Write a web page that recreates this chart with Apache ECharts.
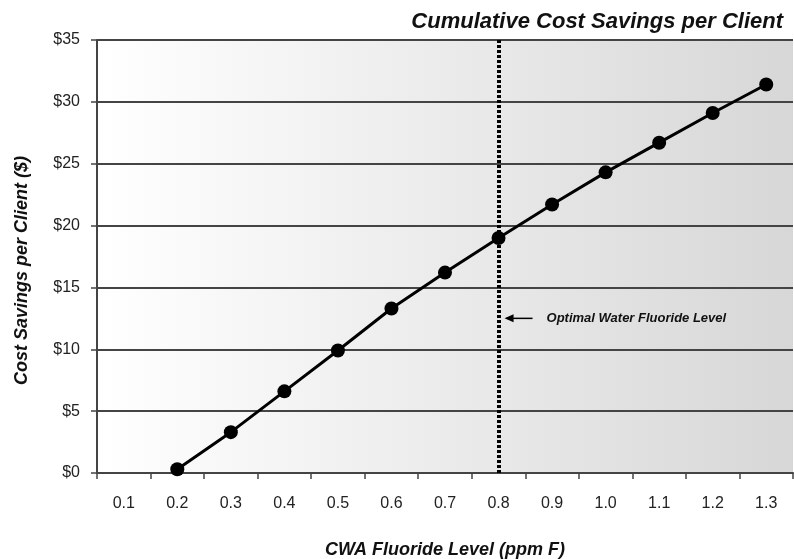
<!DOCTYPE html>
<html>
<head>
<meta charset="utf-8">
<script src="https://cdn.jsdelivr.net/npm/echarts@6/dist/echarts.min.js"></script>
<style>
  html, body { margin: 0; padding: 0; background: #fff; }
  #main { width: 794px; height: 559px; }
</style>
</head>
<body>
<div id="main"></div>
<script>
// fluoride levels on the x axis
var levels = ['0.1', '0.2', '0.3', '0.4', '0.5', '0.6', '0.7', '0.8', '0.9', '1.0', '1.1', '1.2', '1.3'];
// cumulative savings per client ($), none at 0.1
var savings = [null, 0.3, 3.3, 6.6, 9.9, 13.3, 16.2, 19.0, 21.7, 24.3, 26.7, 29.1, 31.4];
var optimalLevel = '0.8';
var noteValue = 12.5;

var font = 'Liberation Sans, Arial, sans-serif';

var chart = echarts.init(document.getElementById('main'));

var option = {
  animation: false,
  backgroundColor: '#ffffff',
  title: {
    text: 'Cumulative Cost Savings per Client',
    right: 6,
    top: 6,
    textStyle: {
      fontFamily: font,
      fontSize: 22,
      fontWeight: 'bold',
      fontStyle: 'italic',
      color: '#111'
    }
  },
  grid: {
    left: 97,
    right: 1,
    top: 40,
    bottom: 86,
    containLabel: false,
    outerBoundsMode: 'none',
    show: true,
    borderWidth: 0,
    backgroundColor: new echarts.graphic.LinearGradient(0, 0, 1, 0, [
      { offset: 0, color: '#ffffff' },
      { offset: 1, color: '#d7d7d7' }
    ])
  },
  xAxis: {
    type: 'category',
    data: levels,
    boundaryGap: true,
    name: 'CWA Fluoride Level (ppm F)',
    nameLocation: 'middle',
    nameGap: 68,
    nameTextStyle: {
      fontFamily: font,
      fontSize: 18,
      fontWeight: 'bold',
      fontStyle: 'italic',
      color: '#111'
    },
    axisLine: { lineStyle: { color: '#444', width: 2 } },
    axisTick: { show: true, length: 6, lineStyle: { color: '#444', width: 1.5 } },
    axisLabel: {
      fontFamily: font,
      fontSize: 16,
      color: '#222',
      margin: 23
    },
    splitLine: { show: false }
  },
  yAxis: {
    type: 'value',
    min: 0,
    max: 35,
    interval: 5,
    name: 'Cost Savings per Client ($)',
    nameLocation: 'middle',
    nameGap: 66,
    nameTextStyle: {
      fontFamily: font,
      fontSize: 18,
      fontWeight: 'bold',
      fontStyle: 'italic',
      color: '#111',
      padding: [0, 28, 0, 0]
    },
    axisLine: { show: true, lineStyle: { color: '#444', width: 2 } },
    axisTick: { show: true, length: 6, lineStyle: { color: '#444', width: 1.5 } },
    axisLabel: {
      fontFamily: font,
      fontSize: 16,
      color: '#222',
      margin: 17,
      formatter: function (v) { return '$' + v; }
    },
    splitLine: { show: true, lineStyle: { color: '#444', width: 2 } }
  },
  series: [{
    type: 'line',
    data: savings,
    symbol: 'circle',
    symbolSize: 14,
    itemStyle: { color: '#000' },
    lineStyle: { color: '#000', width: 3 },
    z: 5,
    markLine: {
      silent: true,
      symbol: ['none', 'none'],
      label: { show: false },
      lineStyle: { color: '#000', width: 4, type: [3, 2] },
      data: [{ xAxis: optimalLevel }],
      z: 3
    }
  }]
};

chart.setOption(option);

// arrow and note next to the optimal level line
var p = chart.convertToPixel({ xAxisIndex: 0, yAxisIndex: 0 }, [optimalLevel, noteValue]);
chart.setOption({
  graphic: [
    {
      type: 'line',
      shape: { x1: p[0] + 8, y1: p[1], x2: p[0] + 34, y2: p[1] },
      style: { stroke: '#000', lineWidth: 1.5 },
      z: 10
    },
    {
      type: 'polygon',
      shape: { points: [[p[0] + 6, p[1]], [p[0] + 15, p[1] - 4], [p[0] + 15, p[1] + 4]] },
      style: { fill: '#000' },
      z: 10
    },
    {
      type: 'text',
      x: p[0] + 48,
      y: p[1],
      style: {
        text: 'Optimal Water Fluoride Level',
        font: 'italic bold 13px ' + font,
        fill: '#111',
        textVerticalAlign: 'middle'
      },
      z: 10
    }
  ]
});
</script>
</body>
</html>
